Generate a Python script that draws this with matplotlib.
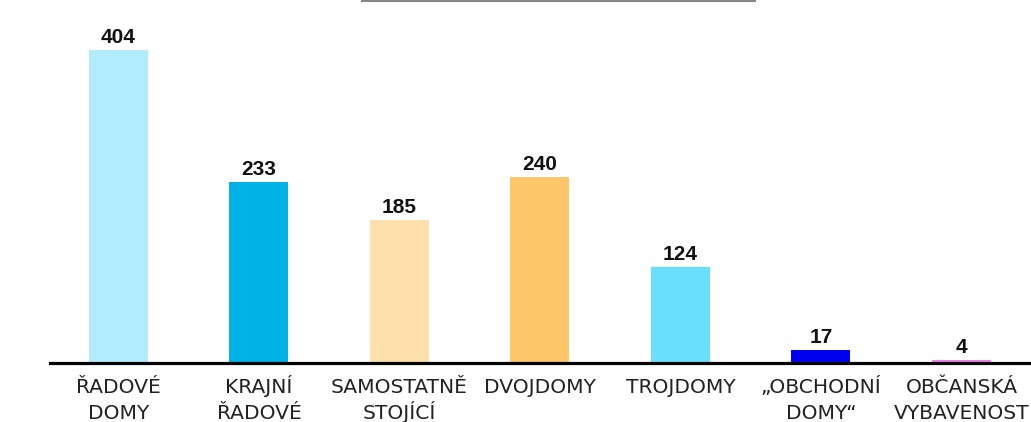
import matplotlib
matplotlib.use('Agg')
import matplotlib.pyplot as plt
from matplotlib.lines import Line2D
from matplotlib.transforms import blended_transform_factory

categories = ['ŘADOVÉ\nDOMY', 'KRAJNÍ\nŘADOVÉ', 'SAMOSTATNĚ\nSTOJÍCÍ', 'DVOJDOMY',
              'TROJDOMY', '„OBCHODNÍ\nDOMY“', 'OBČANSKÁ\nVYBAVENOST']
values = [404, 233, 185, 240, 124, 17, 4]
colors = ['#b0ecfe', '#00b2e5', '#fde0ab', '#fec86a', '#69dffe', '#0000f0', '#f47ff0']

W, H = 1031, 422
fig = plt.figure(figsize=(W / 100, H / 100), dpi=100)
fig.patch.set_facecolor('white')

# axes placed in pixel terms: baseline at y=363, 404 reaches y=50
left, bottom, top = 50, 363, 50
ax = fig.add_axes([left / W, (H - bottom) / H, 1 - left / W, (bottom - top) / H])

x = list(range(len(values)))
ax.bar(x, values, width=0.42, color=colors, zorder=2)
ax.set_xlim(-0.487, 6.495)
ax.set_ylim(0, 404)

for xi, v in zip(x, values):
    ax.text(xi, v + 4, str(v), ha='center', va='bottom', fontsize=15,
            fontweight='bold', color='#111111', family='Liberation Sans')

# category labels, each line on its own baseline
tr = blended_transform_factory(ax.transData, fig.transFigure)
baselines = [393, 419]
for xi, lab in zip(x, categories):
    for line, by in zip(lab.split('\n'), baselines):
        ax.text(xi, 1 - by / H, line, ha='center', va='baseline', fontsize=14.6,
                color='#222222', family='DejaVu Sans', transform=tr)

for s in ['top', 'right', 'left']:
    ax.spines[s].set_visible(False)
ax.spines['bottom'].set_linewidth(2.3)
ax.spines['bottom'].set_color('black')
ax.set_xticks([])
ax.set_yticks([])

# gray rule at the top (title underline cut off)
fig.add_artist(Line2D([362 / W, 755 / W], [1 - 1 / H, 1 - 1 / H],
                      color='#888888', linewidth=1.5, transform=fig.transFigure))

fig.savefig('out.png', dpi=100, facecolor='white')
